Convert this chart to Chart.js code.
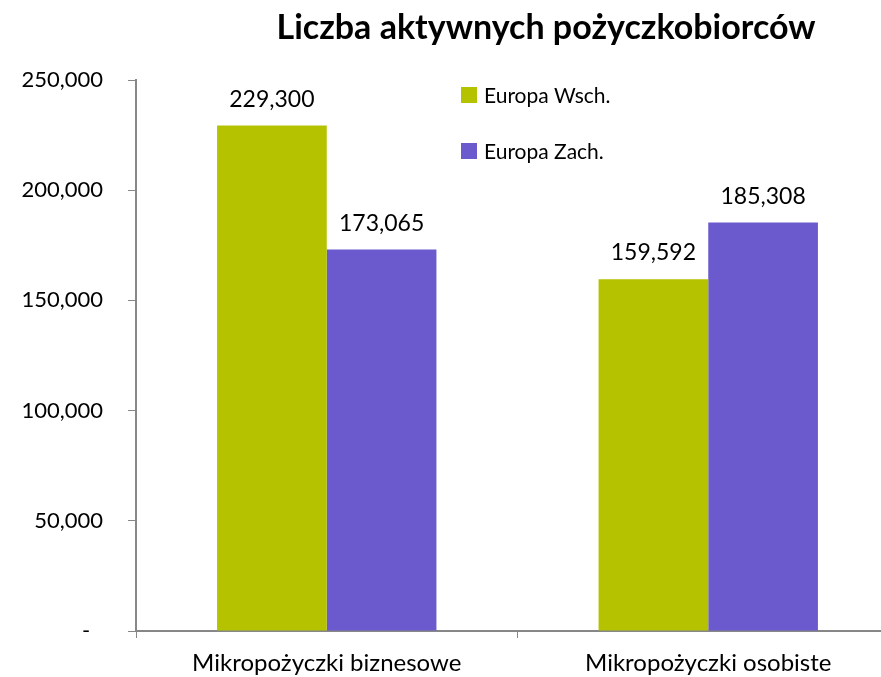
<!DOCTYPE html>
<html>
<head>
<meta charset="utf-8">
<script src="https://cdn.jsdelivr.net/npm/chart.js@4"></script>
<style>
  html, body { margin: 0; padding: 0; background: #fff; overflow: hidden; }
  #wrap { width: 900px; height: 677px; }
</style>
</head>
<body>
<div id="wrap"><canvas id="myChart" width="900" height="677"></canvas></div>
<script>
const categories = ['Mikropożyczki biznesowe', 'Mikropożyczki osobiste'];
const seriesNames = ['Europa Wsch.', 'Europa Zach.'];
const wschValues = [229300, 159592];
const zachValues = [173065, 185308];
const yTicks = [0, 50000, 100000, 150000, 200000, 250000];
const chartTitle = 'Liczba aktywnych pożyczkobiorców';

const GREEN = '#b4c200';
const PURPLE = '#6a5acd';
const AXIS = '#878787';
const FONT = 'Lato, "Open Sans", sans-serif';

const fmt = (v) => v === 0 ? '-\u2007' : v.toLocaleString('en-US');

// titre, légende et étiquettes de valeurs
const extras = {
  id: 'extras',
  afterDatasetsDraw(chart) {
    const ctx = chart.ctx;
    ctx.save();
    ctx.fillStyle = '#000';
    ctx.textAlign = 'center';
    ctx.textBaseline = 'alphabetic';
    ctx.font = '23px ' + FONT;
    chart.data.datasets.forEach((ds, i) => {
      chart.getDatasetMeta(i).data.forEach((bar, j) => {
        ctx.fillText(fmt(ds.data[j]), bar.x, bar.y - 19);
      });
    });

    ctx.font = 'bold 34px ' + FONT;
    ctx.fillText(chartTitle, 546, 39);

    ctx.textAlign = 'left';
    ctx.textBaseline = 'middle';
    ctx.font = '21px ' + FONT;
    chart.data.datasets.forEach((ds, i) => {
      const y = 95 + i * 56;
      ctx.fillStyle = ds.backgroundColor;
      ctx.fillRect(461, y - 8, 16, 16);
      ctx.fillStyle = '#000';
      ctx.fillText(ds.label, 484, y + 1);
    });
    ctx.restore();
  }
};

new Chart(document.getElementById('myChart'), {
  type: 'bar',
  data: {
    labels: categories,
    datasets: [
      { label: seriesNames[0], data: wschValues, backgroundColor: GREEN },
      { label: seriesNames[1], data: zachValues, backgroundColor: PURPLE }
    ]
  },
  options: {
    responsive: false,
    animation: false,
    layout: { padding: { top: 80, right: 1, left: 0, bottom: 0 } },
    datasets: { bar: { categoryPercentage: 0.575, barPercentage: 1 } },
    plugins: {
      legend: { display: false },
      title: { display: false },
      tooltip: { enabled: false }
    },
    scales: {
      x: {
        afterFit(scale) { scale.height = 46; },
        border: { color: AXIS, width: 2 },
        grid: { display: true, drawOnChartArea: false, drawTicks: true, tickLength: 7, color: AXIS, lineWidth: 1, offset: true },
        ticks: { color: '#000', font: { family: FONT, size: 24 }, padding: 11 }
      },
      y: {
        min: 0,
        max: 250000,
        afterFit(scale) { scale.width = 136; },
        afterBuildTicks(scale) { scale.ticks = yTicks.map(v => ({ value: v })); },
        border: { color: AXIS, width: 2 },
        grid: { display: true, drawOnChartArea: false, drawTicks: true, tickLength: 8, color: AXIS, lineWidth: 1 },
        ticks: { color: '#000', font: { family: FONT, size: 22 }, padding: 25, callback: (v) => fmt(v) }
      }
    }
  },
  plugins: [extras]
});
</script>
</body>
</html>
